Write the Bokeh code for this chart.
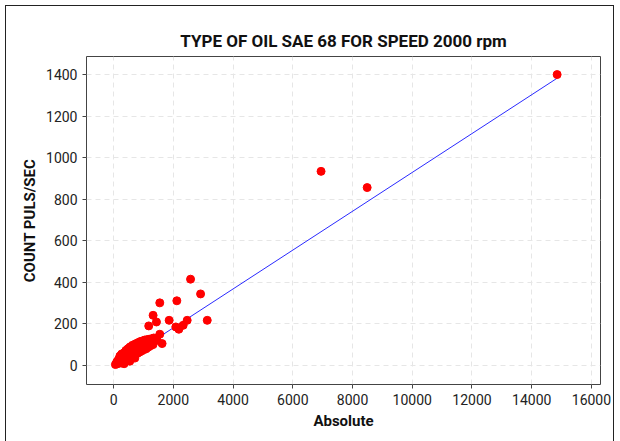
from bokeh.plotting import figure
from bokeh.models import Range1d, FixedTicker
from bokeh.embed import file_html
from bokeh.resources import INLINE

# Data
absolute = [60, 95, 120, 140, 170, 185, 210, 230, 255, 270, 300, 320, 345, 365, 390, 410, 430, 455,
            480, 500, 520, 545, 570, 590, 615, 640, 660, 685, 705, 730, 755, 780, 800, 825, 850, 870,
            895, 920, 945, 965, 990, 1015, 1040, 1065, 1090, 1115, 1140, 1165, 1190, 1215, 1240, 1265,
            1290, 1320, 1345, 280, 450, 620, 760, 880, 1010, 1130, 350, 540, 710,
            1176, 1322, 1434, 1546, 1546, 1623, 1455, 1859, 2117, 2083, 2184, 2329, 2463, 2576, 2912,
            3135, 6946, 8490, 14851]
count_puls = [4, 12, 20, 8, 30, 15, 45, 22, 12, 55, 35, 18, 60, 42, 25, 72, 48, 30,
              80, 55, 38, 88, 62, 40, 95, 70, 45, 100, 75, 52, 105, 82, 58, 110, 88, 64,
              115, 95, 70, 118, 100, 76, 122, 105, 80, 124, 110, 88, 126, 115, 95, 128,
              118, 100, 132, 28, 65, 82, 92, 102, 90, 98, 8, 20, 35,
              190, 241, 209, 301, 150, 105, 121, 217, 311, 185, 174, 193, 217, 415, 344,
              217, 934, 856, 1400]
fit_slope = 0.0935
fit_intercept = -6.0
x_ticks = [0, 2000, 4000, 6000, 8000, 10000, 12000, 14000, 16000]
y_ticks = [0, 200, 400, 600, 800, 1000, 1200, 1400]

p = figure(width=609, height=440, output_backend="svg", toolbar_location=None,
           x_range=Range1d(-908, 16303), y_range=Range1d(-92, 1487),
           min_border_left=80, min_border_right=15, min_border_top=50, min_border_bottom=62,
           title="TYPE OF OIL SAE 68 FOR SPEED 2000 rpm",
           styles={"border": "1px solid #222", "margin-left": "5px", "margin-top": "5px"})

p.title.align = "center"
p.title.vertical_align = "middle"
p.title.text_font = "Roboto"
p.title.text_font_size = "17px"
p.title.text_font_style = "bold"
p.title.text_color = "#111111"
p.title.standoff = 10

p.outline_line_color = "#444444"
p.background_fill_color = "white"
p.border_fill_color = "white"

for ax, ticks in ((p.xaxis[0], x_ticks), (p.yaxis[0], y_ticks)):
    ax.ticker = FixedTicker(ticks=ticks)
    ax.axis_line_color = None
    ax.major_tick_in = 0
    ax.major_tick_out = 4
    ax.major_tick_line_color = "#444444"
    ax.minor_tick_line_color = None
    ax.major_label_text_font = "Roboto"
    ax.major_label_text_font_size = "14px"
    ax.major_label_text_color = "#222222"
    ax.axis_label_text_font = "Roboto"
    ax.axis_label_text_font_size = "15px"
    ax.axis_label_text_font_style = "bold"
    ax.axis_label_text_color = "#111111"

p.xaxis.axis_label = "Absolute"
p.yaxis.axis_label = "COUNT PULS/SEC"
p.xaxis.axis_label_standoff = 4
p.yaxis.axis_label_standoff = 4
p.xaxis.major_label_standoff = 5
p.yaxis.major_label_standoff = 5

p.xgrid.ticker = FixedTicker(ticks=x_ticks)
p.ygrid.ticker = FixedTicker(ticks=y_ticks)
for g in (p.xgrid[0], p.ygrid[0]):
    g.grid_line_color = "#e6e6e6"
    g.grid_line_dash = "5 4"
    g.grid_line_width = 1

x0, x1 = min(absolute), max(absolute)
p.line([x0, x1], [fit_slope * x0 + fit_intercept, fit_slope * x1 + fit_intercept],
       line_color="#2a2aff", line_width=1)

p.scatter(absolute, count_puls, size=8, marker="circle", fill_color="#ff0000", line_color="#ff0000")

open("out.html", "w").write(file_html(p, INLINE))
